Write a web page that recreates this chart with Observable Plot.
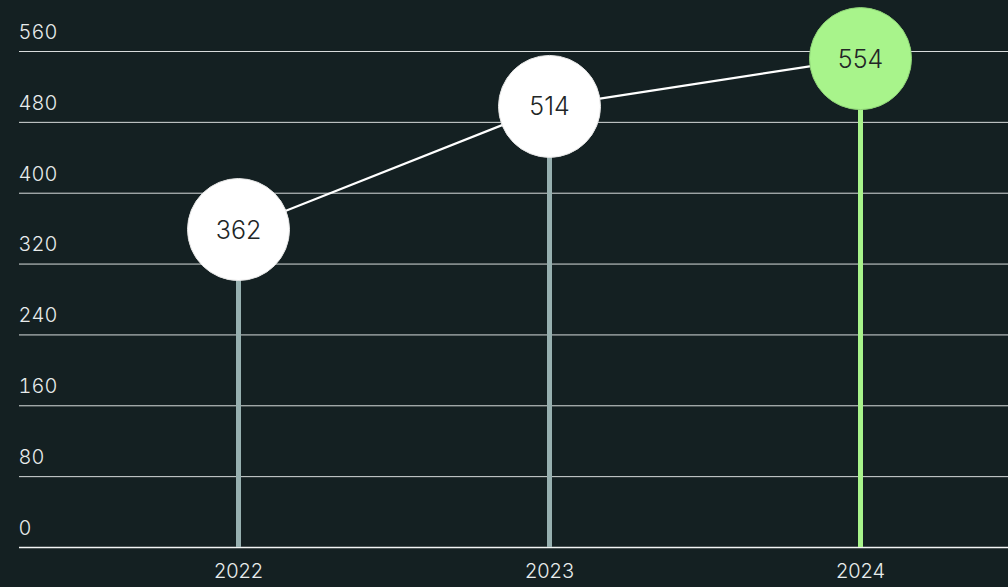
<!DOCTYPE html>
<html>
<head>
<meta charset="utf-8">
<script src="https://cdn.jsdelivr.net/npm/d3@7"></script>
<script src="https://cdn.jsdelivr.net/npm/@observablehq/plot@0.6"></script>
<style>
  html, body { margin: 0; padding: 0; background: #142022; }
  #chart svg { display: block; }
</style>
</head>
<body>
<div id="chart"></div>
<script>
const years = ["2022", "2023", "2024"];
// plotted heights
const values = [359, 498, 552];
// printed labels inside the circles
const labels = ["362", "514", "554"];
const highlight = [false, false, true];
const yTicks = [0, 80, 160, 240, 320, 400, 480, 560];

const data = years.map((y, i) => ({year: y, value: values[i], label: labels[i], hi: highlight[i]}));

const grey = "#97b0b0";
const green = "#a8f48b";

const chart = Plot.plot({
  width: 1008,
  height: 587,
  marginLeft: 19,
  marginRight: 0,
  marginTop: 51,
  marginBottom: 40,
  style: {background: "#142022", color: "#e8ecec", fontFamily: "Inter, 'Noto Sans', sans-serif", fontSize: "20px"},
  x: {type: "point", domain: years, range: [238, 860], padding: 0, label: null},
  y: {domain: [0, 560], label: null},
  marks: [
    Plot.gridY(yTicks.filter(d => d > 0), {stroke: "#d8dcdc", strokeOpacity: 1, strokeWidth: 1}),
    Plot.ruleY([0], {stroke: "#f2f4f4", strokeWidth: 1.5}),
    Plot.axisY(yTicks, {tickSize: 0, textAnchor: "start", dx: 8, dy: -19, fill: "#e8ecec", fontSize: 20, fontWeight: 300, label: null}),
    Plot.axisX({tickSize: 0, tickPadding: 16, fill: "#e8ecec", fontSize: 20, fontWeight: 300, label: null}),
    Plot.ruleX(data, {x: "year", y1: 0, y2: "value", stroke: d => d.hi ? green : grey, strokeWidth: 5}),
    Plot.line(data, {x: "year", y: "value", stroke: "#ffffff", strokeWidth: 2.2}),
    Plot.dot(data, {x: "year", y: "value", r: 51, fill: d => d.hi ? green : "#ffffff", stroke: d => d.hi ? "#8fd477" : "#e6e6e6", strokeWidth: 1}),
    Plot.text(data, {x: "year", y: "value", text: "label", fill: "#222626", fontSize: 25, fontWeight: 300, dy: 1})
  ]
});
document.getElementById("chart").appendChild(chart);
</script>
</body>
</html>
